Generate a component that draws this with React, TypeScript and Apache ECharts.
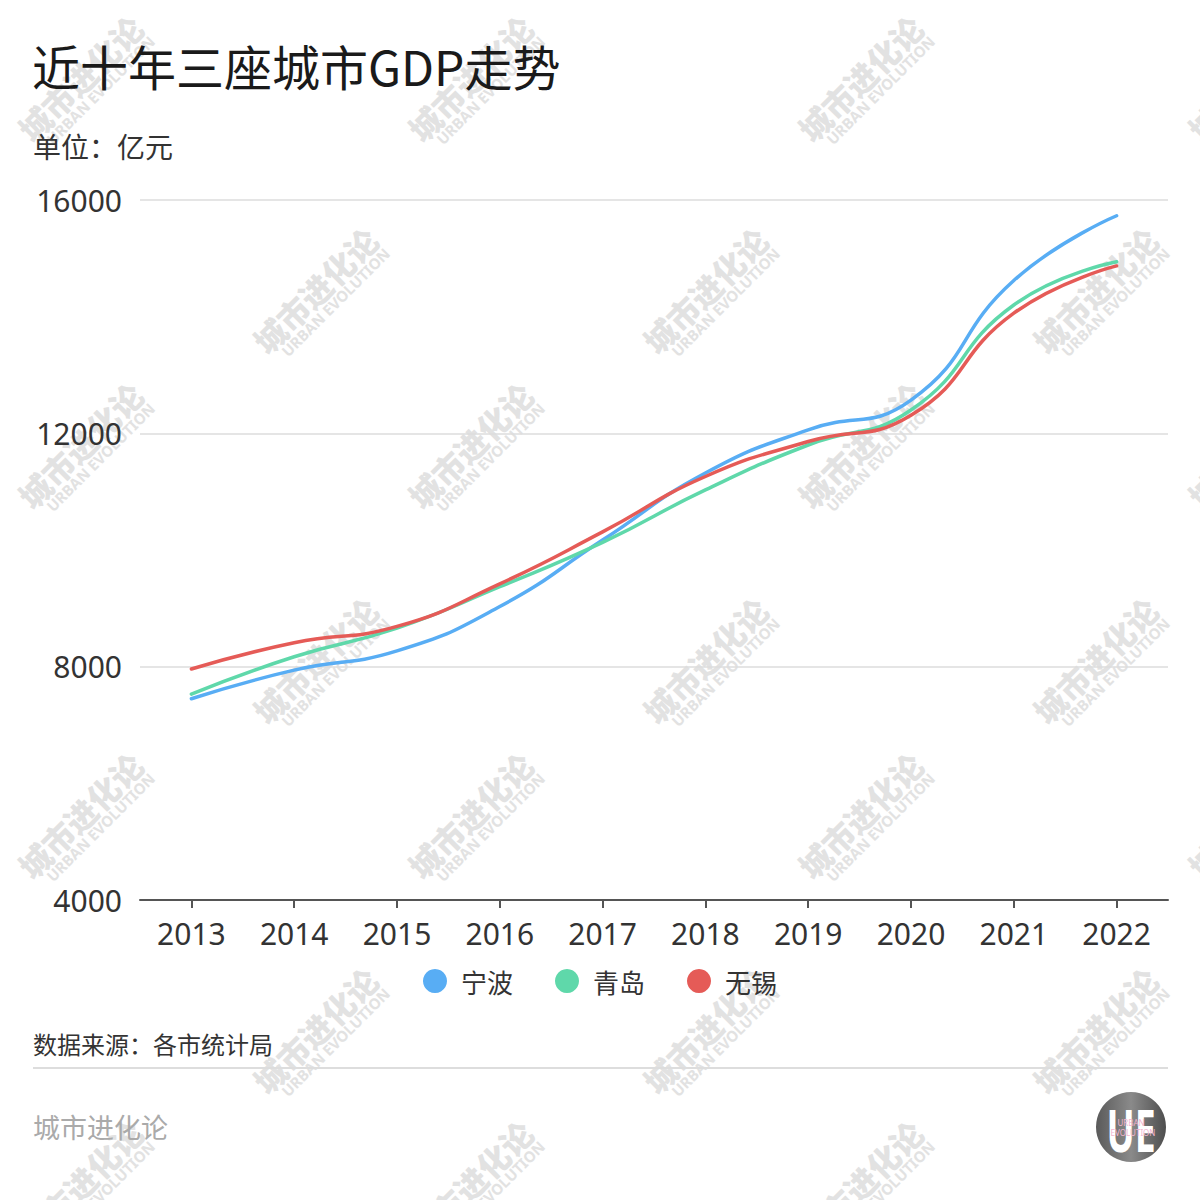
import React, { useEffect, useRef } from "react";
import * as echarts from "echarts";

const years = ["2013", "2014", "2015", "2016", "2017", "2018", "2019", "2020", "2021", "2022"];
const ningbo = [7450, 7940, 8270, 9030, 10170, 11320, 12060, 12570, 14620, 15730];
const qingdao = [7530, 8170, 8660, 9370, 10130, 11030, 11800, 12400, 14200, 14940];
const wuxi = [7960, 8410, 8690, 9420, 10310, 11260, 11860, 12310, 14060, 14870];
const seriesNames = ["宁波", "青岛", "无锡"];
const seriesColors = ["#58adf4", "#5fd8aa", "#e55b57"];

const FONT = "'Noto Sans', 'Noto Sans CJK SC', sans-serif";
const CJK = "'Noto Sans CJK SC', 'Noto Sans', sans-serif";

function watermark(x: number, y: number) {
  return {
    type: "group",
    x,
    y,
    rotation: Math.PI / 4,
    silent: true,
    children: [
      {
        type: "text",
        x: 0,
        y: 0,
        style: {
          text: "城市进化论",
          fill: "#e2e2e2",
          font: `900 32px ${CJK}`,
          align: "center",
          verticalAlign: "middle",
        },
      },
      {
        type: "text",
        x: 6,
        y: 23,
        style: {
          text: "URBAN EVOLUTION",
          fill: "#e2e2e2",
          font: `bold 15px ${FONT}`,
          align: "center",
          verticalAlign: "middle",
        },
      },
    ],
  };
}

function buildWatermarks() {
  const out: any[] = [];
  const rowsA = [78, 445, 815, 1183];
  const rowsB = [290, 660, 1030];
  for (const y of rowsA) for (const x of [80, 470, 860, 1250]) out.push(watermark(x, y));
  for (const y of rowsB) for (const x of [315, 705, 1095]) out.push(watermark(x, y));
  return out;
}

export default function App() {
  const ref = useRef<HTMLDivElement>(null);
  useEffect(() => {
    if (!ref.current) return;
    const chart = echarts.init(ref.current, undefined, { renderer: "svg" });
    const data = [ningbo, qingdao, wuxi];
    chart.setOption({
      animation: false,
      backgroundColor: "#ffffff",
      grid: { left: 140, right: 32, top: 200, bottom: 300 },
      legend: {
        top: 963,
        left: "center",
        icon: "circle",
        itemWidth: 24,
        itemHeight: 24,
        itemGap: 42,
        textStyle: { fontSize: 26, color: "#333", fontFamily: CJK, padding: [0, 0, 0, 9] },
        data: seriesNames,
      },
      xAxis: {
        type: "category",
        data: years,
        boundaryGap: true,
        axisLine: { lineStyle: { color: "#555", width: 2 } },
        axisTick: { show: true, alignWithLabel: true, length: 8, lineStyle: { color: "#555", width: 2 } },
        axisLabel: { fontSize: 30, color: "#333", fontFamily: FONT, margin: 18 },
        splitLine: { show: false },
      },
      yAxis: {
        type: "value",
        min: 4000,
        max: 16000,
        interval: 4000,
        axisLine: { show: false },
        axisTick: { show: false },
        axisLabel: {
          fontSize: 30,
          color: "#333",
          fontFamily: FONT,
          margin: 18,
          formatter: (v: number) => String(v),
        },
        splitLine: { lineStyle: { color: "#dddddd", width: 1.5 } },
      },
      series: seriesNames.map((name, i) => ({
        name,
        type: "line",
        data: data[i],
        smooth: 0.5,
        symbol: "none",
        z: 5,
        itemStyle: { color: seriesColors[i] },
        lineStyle: { color: seriesColors[i], width: 3.5, cap: "round" },
      })),
      graphic: [
        ...buildWatermarks(),
        {
          type: "text",
          left: 32,
          top: 41,
          style: { text: "近十年三座城市GDP走势", fill: "#1a1a1a", font: `48px ${CJK}` },
        },
        {
          type: "text",
          left: 33,
          top: 132,
          style: { text: "单位：亿元", fill: "#333", font: `28px ${CJK}` },
        },
        {
          type: "text",
          left: 33,
          top: 1031,
          style: { text: "数据来源：各市统计局", fill: "#333", font: `24px ${CJK}` },
        },
        {
          type: "line",
          shape: { x1: 33, y1: 1068, x2: 1168, y2: 1068 },
          style: { stroke: "#dddddd", lineWidth: 2 },
        },
        {
          type: "text",
          left: 33,
          top: 1113,
          style: { text: "城市进化论", fill: "#aaaaaa", font: `27px ${CJK}` },
        },
        {
          type: "group",
          x: 1131,
          y: 1127,
          children: [
            {
              type: "circle",
              shape: { cx: 0, cy: 0, r: 35 },
              style: {
                fill: new echarts.graphic.LinearGradient(0, 0, 1, 0, [
                  { offset: 0, color: "#5a5a5a" },
                  { offset: 0.5, color: "#8a8a8a" },
                  { offset: 1, color: "#4e4e4e" },
                ]),
              },
            },
            {
              type: "text",
              x: 0,
              y: 2,
              scaleX: 0.85,
              scaleY: 1.35,
              style: {
                text: "UE",
                fill: "#ffffff",
                font: `bold 44px ${FONT}`,
                align: "center",
                verticalAlign: "middle",
              },
            },
            {
              type: "text",
              x: 0,
              y: -5,
              style: {
                text: "URBAN",
                fill: "#f2b3cf",
                font: `8px ${FONT}`,
                align: "center",
                verticalAlign: "middle",
              },
            },
            {
              type: "text",
              x: 2,
              y: 5,
              style: {
                text: "EVOLUTION",
                fill: "#f2b3cf",
                font: `8px ${FONT}`,
                align: "center",
                verticalAlign: "middle",
              },
            },
          ],
        },
      ],
    });
    return () => chart.dispose();
  }, []);
  return (
    <div
      ref={ref}
      style={{ position: "absolute", left: 0, top: 0, width: 1200, height: 1200 }}
    />
  );
}
